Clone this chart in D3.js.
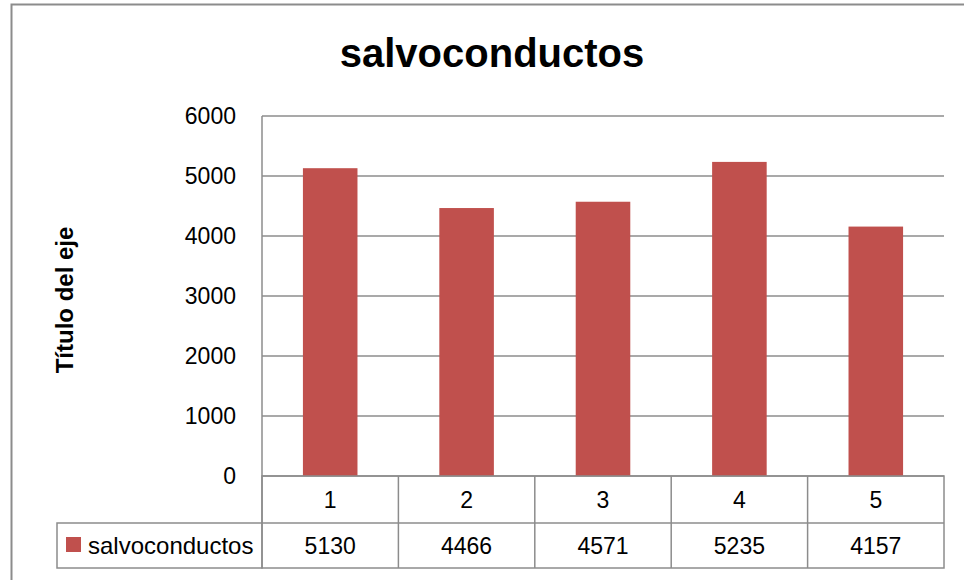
<!DOCTYPE html>
<html>
<head>
<meta charset="utf-8">
<script src="https://cdn.jsdelivr.net/npm/d3@7"></script>
<style>
  body { margin: 0; background: #fff; }
  text { font-family: "Liberation Sans", Arial, sans-serif; fill: #000; }
</style>
</head>
<body>
<div class="chart"></div>
<script>
var categories = ["1", "2", "3", "4", "5"];
var values = [5130, 4466, 4571, 5235, 4157];
var yTicks = [0, 1000, 2000, 3000, 4000, 5000, 6000];
var seriesName = "salvoconductos";
var chartTitle = "salvoconductos";
var yTitle = "Título del eje";

var svgWidth = 964;
var svgHeight = 580;

var plot = { left: 262, top: 116, right: 944, bottom: 476 };
var rowH = 47;
var legendLeft = 57;
var gray = "#8c8c8c";
var barColor = "#c0504d";
var fontSize = "23px";

var svg = d3.select(".chart")
  .append("svg")
  .attr("width", svgWidth)
  .attr("height", svgHeight);

// outer frame (runs off the right and bottom edge in the original)
svg.append("rect")
  .attr("x", 11.5).attr("y", 4.5)
  .attr("width", 1000).attr("height", 700)
  .attr("fill", "none")
  .attr("stroke", gray)
  .attr("stroke-width", 2);

var x = d3.scaleBand()
  .domain(categories)
  .range([plot.left, plot.right])
  .paddingInner(0.6)
  .paddingOuter(0.3);

var xCell = d3.scaleBand()
  .domain(categories)
  .range([plot.left, plot.right]);

var y = d3.scaleLinear()
  .domain([0, 6000])
  .range([plot.bottom, plot.top]);

// gridlines
svg.append("g")
  .selectAll("line")
  .data(yTicks)
  .enter()
  .append("line")
  .attr("x1", plot.left).attr("x2", plot.right)
  .attr("y1", d => y(d)).attr("y2", d => y(d))
  .attr("stroke", gray)
  .attr("stroke-width", 1.5);

// y axis labels
var leftAxis = d3.axisLeft(y)
  .tickValues(yTicks)
  .tickFormat(d3.format("d"))
  .tickSize(0)
  .tickPadding(26);
var yAxisG = svg.append("g")
  .attr("transform", `translate(${plot.left}, 0)`)
  .call(leftAxis);
yAxisG.select(".domain").remove();
yAxisG.selectAll("text")
  .style("font-family", "'Liberation Sans', Arial, sans-serif")
  .style("font-size", fontSize)
  .attr("fill", "#000");

// axis line
svg.append("line")
  .attr("x1", plot.left).attr("x2", plot.left)
  .attr("y1", plot.top).attr("y2", plot.bottom + rowH)
  .attr("stroke", gray)
  .attr("stroke-width", 1.5);

// bars
svg.append("g")
  .selectAll("rect")
  .data(values)
  .enter()
  .append("rect")
  .attr("x", (d, i) => x(categories[i]))
  .attr("y", d => y(d))
  .attr("width", x.bandwidth())
  .attr("height", d => y(0) - y(d))
  .attr("fill", barColor);

// data table
var table = svg.append("g");
var row1 = plot.bottom, row2 = plot.bottom + rowH, row3 = plot.bottom + 2 * rowH - 2;

table.append("rect")
  .attr("x", plot.left).attr("y", row1)
  .attr("width", plot.right - plot.left).attr("height", row3 - row1)
  .attr("fill", "none").attr("stroke", gray).attr("stroke-width", 1.5);
table.append("rect")
  .attr("x", legendLeft).attr("y", row2)
  .attr("width", plot.left - legendLeft).attr("height", row3 - row2)
  .attr("fill", "none").attr("stroke", gray).attr("stroke-width", 1.5);
table.append("line")
  .attr("x1", plot.left).attr("x2", plot.right)
  .attr("y1", row2).attr("y2", row2)
  .attr("stroke", gray).attr("stroke-width", 1.5);
table.selectAll(".sep")
  .data(categories.slice(1))
  .enter()
  .append("line")
  .attr("x1", d => xCell(d)).attr("x2", d => xCell(d))
  .attr("y1", row1).attr("y2", row3)
  .attr("stroke", gray).attr("stroke-width", 1.5);

table.selectAll(".cat")
  .data(categories)
  .enter()
  .append("text")
  .attr("x", d => xCell(d) + xCell.bandwidth() / 2)
  .attr("y", (row1 + row2) / 2 + 8)
  .attr("text-anchor", "middle")
  .style("font-size", fontSize)
  .text(d => d);

table.selectAll(".val")
  .data(values)
  .enter()
  .append("text")
  .attr("x", (d, i) => xCell(categories[i]) + xCell.bandwidth() / 2)
  .attr("y", (row2 + row3) / 2 + 8)
  .attr("text-anchor", "middle")
  .style("font-size", fontSize)
  .text(d => d);

// legend key
table.append("rect")
  .attr("x", 66).attr("y", 537)
  .attr("width", 15).attr("height", 15)
  .attr("fill", barColor);
table.append("text")
  .attr("x", 88)
  .attr("y", (row2 + row3) / 2 + 8)
  .style("font-size", "24px")
  .text(seriesName);

// titles
svg.append("text")
  .attr("x", 492)
  .attr("y", 67)
  .attr("text-anchor", "middle")
  .style("font-size", "40px")
  .style("font-weight", "bold")
  .text(chartTitle);

svg.append("text")
  .attr("transform", "translate(73, 300) rotate(-90)")
  .attr("text-anchor", "middle")
  .style("font-size", "24px")
  .style("font-weight", "bold")
  .text(yTitle);
</script>
</body>
</html>
